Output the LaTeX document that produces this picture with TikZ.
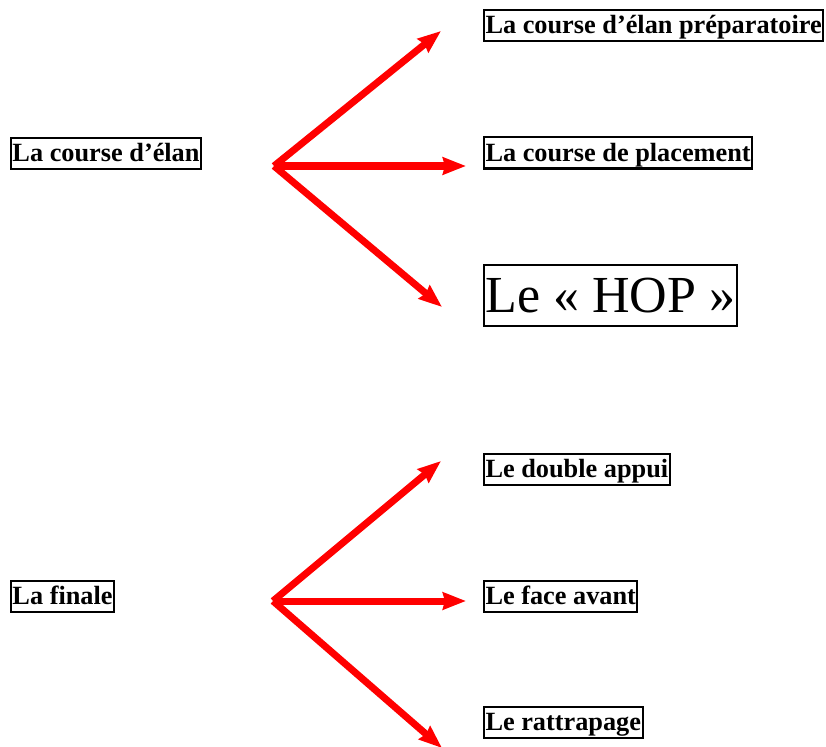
\documentclass[tikz,border=0pt]{standalone}
\usepackage{fontspec}
\setmainfont{Liberation Serif}
\usetikzlibrary{arrows.meta}
\begin{document}
\begin{tikzpicture}[x=1pt,y=-1pt,
  lbl/.style={draw=black,line width=2pt,anchor=west,inner xsep=1.5pt,inner ysep=1.5pt,
    font=\fontsize{26.3pt}{30pt}\selectfont\bfseries,text height=22pt,text depth=6pt},
  biglbl/.style={draw=black,line width=2pt,anchor=west,inner xsep=1.5pt,inner ysep=1.5pt,
    font=\fontsize{52pt}{60pt}\selectfont,text height=46pt,text depth=12pt},
  arr/.style={draw=red,line width=7pt,-{Stealth[length=23pt,width=17pt,inset=2pt]}}]
\useasboundingbox (0,0) rectangle (826,746);
% top group
\node[lbl] (n1) at (10,153.5) {La course d’élan};
\node[lbl] (a1) at (483,26) {La course d’élan préparatoire};
\node[lbl] (a2) at (483,153) {La course de placement};
\node[biglbl] (a3) at (483,295.5) {Le « HOP »};
\coordinate (o1) at (274,166);
\coordinate (t11) at (441,31);
\coordinate (t12) at (466,166);
\coordinate (t13) at (442,307);
\draw[arr] (o1) -- (t11);
\draw[arr] (o1) -- (t12);
\draw[arr] (o1) -- (t13);
% bottom group
\node[lbl] (n2) at (10,596) {La finale};
\node[lbl] (b1) at (483,469) {Le double appui};
\node[lbl] (b2) at (483,596) {Le face avant};
\node[lbl] (b3) at (483,722.5) {Le rattrapage};
\coordinate (o2) at (273,601);
\coordinate (t21) at (441,461);
\coordinate (t22) at (466,601);
\coordinate (t23) at (442,748);
\draw[arr] (o2) -- (t21);
\draw[arr] (o2) -- (t22);
\draw[arr] (o2) -- (t23);
\end{tikzpicture}
\end{document}
